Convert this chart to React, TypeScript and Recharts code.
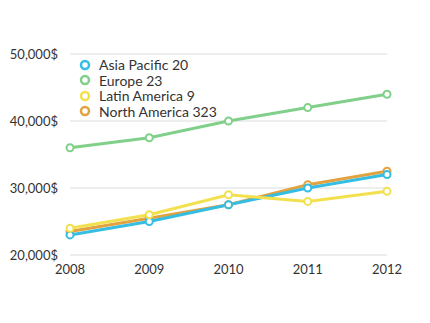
import React from 'react';
import { LineChart, Line, XAxis, YAxis, CartesianGrid } from 'recharts';

const years = ['2008', '2009', '2010', '2011', '2012'];
const asiaPacific = [23000, 25000, 27500, 30000, 32000];
const europe = [36000, 37500, 40000, 42000, 44000];
const latinAmerica = [24000, 26000, 29000, 28000, 29500];
const northAmerica = [23500, 25500, 27500, 30500, 32500];
const yTicks = [20000, 30000, 40000, 50000];

const series = [
  { key: 'europe', name: 'Europe 23', color: '#80d08a', values: europe },
  { key: 'northAmerica', name: 'North America 323', color: '#e2a23e', values: northAmerica },
  { key: 'asiaPacific', name: 'Asia Pacific 20', color: '#35bde3', values: asiaPacific },
  { key: 'latinAmerica', name: 'Latin America 9', color: '#f3e04e', values: latinAmerica },
];
const legendOrder = ['asiaPacific', 'europe', 'latinAmerica', 'northAmerica'];

const data = years.map((year, i) => {
  const row: Record<string, string | number> = { year };
  series.forEach((s) => {
    row[s.key] = s.values[i];
  });
  return row;
});

const font = 'Lato, "Open Sans", sans-serif';

const LegendBox = () => (
  <div
    style={{
      position: 'absolute',
      left: 79,
      top: 57,
      fontFamily: font,
      fontSize: 14,
      color: '#333',
      lineHeight: '15.5px',
    }}
  >
    {legendOrder.map((k) => {
      const s = series.find((x) => x.key === k)!;
      return (
        <div key={k} style={{ display: 'flex', alignItems: 'center', height: 15.5 }}>
          <svg width={12} height={12} style={{ marginRight: 8 }}>
            <circle cx={6} cy={6} r={4} fill="#fff" stroke={s.color} strokeWidth={2.5} />
          </svg>
          <span>{s.name}</span>
        </div>
      );
    })}
  </div>
);

export default function App() {
  return (
    <div style={{ position: 'absolute', left: 0, top: 0, width: 430, height: 323, background: '#fff' }}>
      <LineChart width={430} height={323} data={data} margin={{ top: 54, right: 43, bottom: 38, left: 0 }}>
        <CartesianGrid vertical={false} stroke="#dcdcdc" />
        <XAxis
          dataKey="year"
          axisLine={false}
          tickLine={false}
          tick={{ fill: '#333', fontSize: 13, fontFamily: font }}
          tickMargin={4}
          height={30}
        />
        <YAxis
          domain={[20000, 50000]}
          ticks={yTicks}
          width={70}
          axisLine={false}
          tickLine={false}
          tickFormatter={(v: number) => `${v.toLocaleString('en-US')}$`}
          tick={{ fill: '#333', fontSize: 13, fontFamily: font }}
          tickMargin={6}
        />
        {series.map((s) => (
          <Line
            key={s.key}
            dataKey={s.key}
            name={s.name}
            stroke={s.color}
            strokeWidth={3}
            dot={{ r: 3.5, fill: '#fff', stroke: s.color, strokeWidth: 2 }}
            isAnimationActive={false}
          />
        ))}
      </LineChart>
      <LegendBox />
    </div>
  );
}
